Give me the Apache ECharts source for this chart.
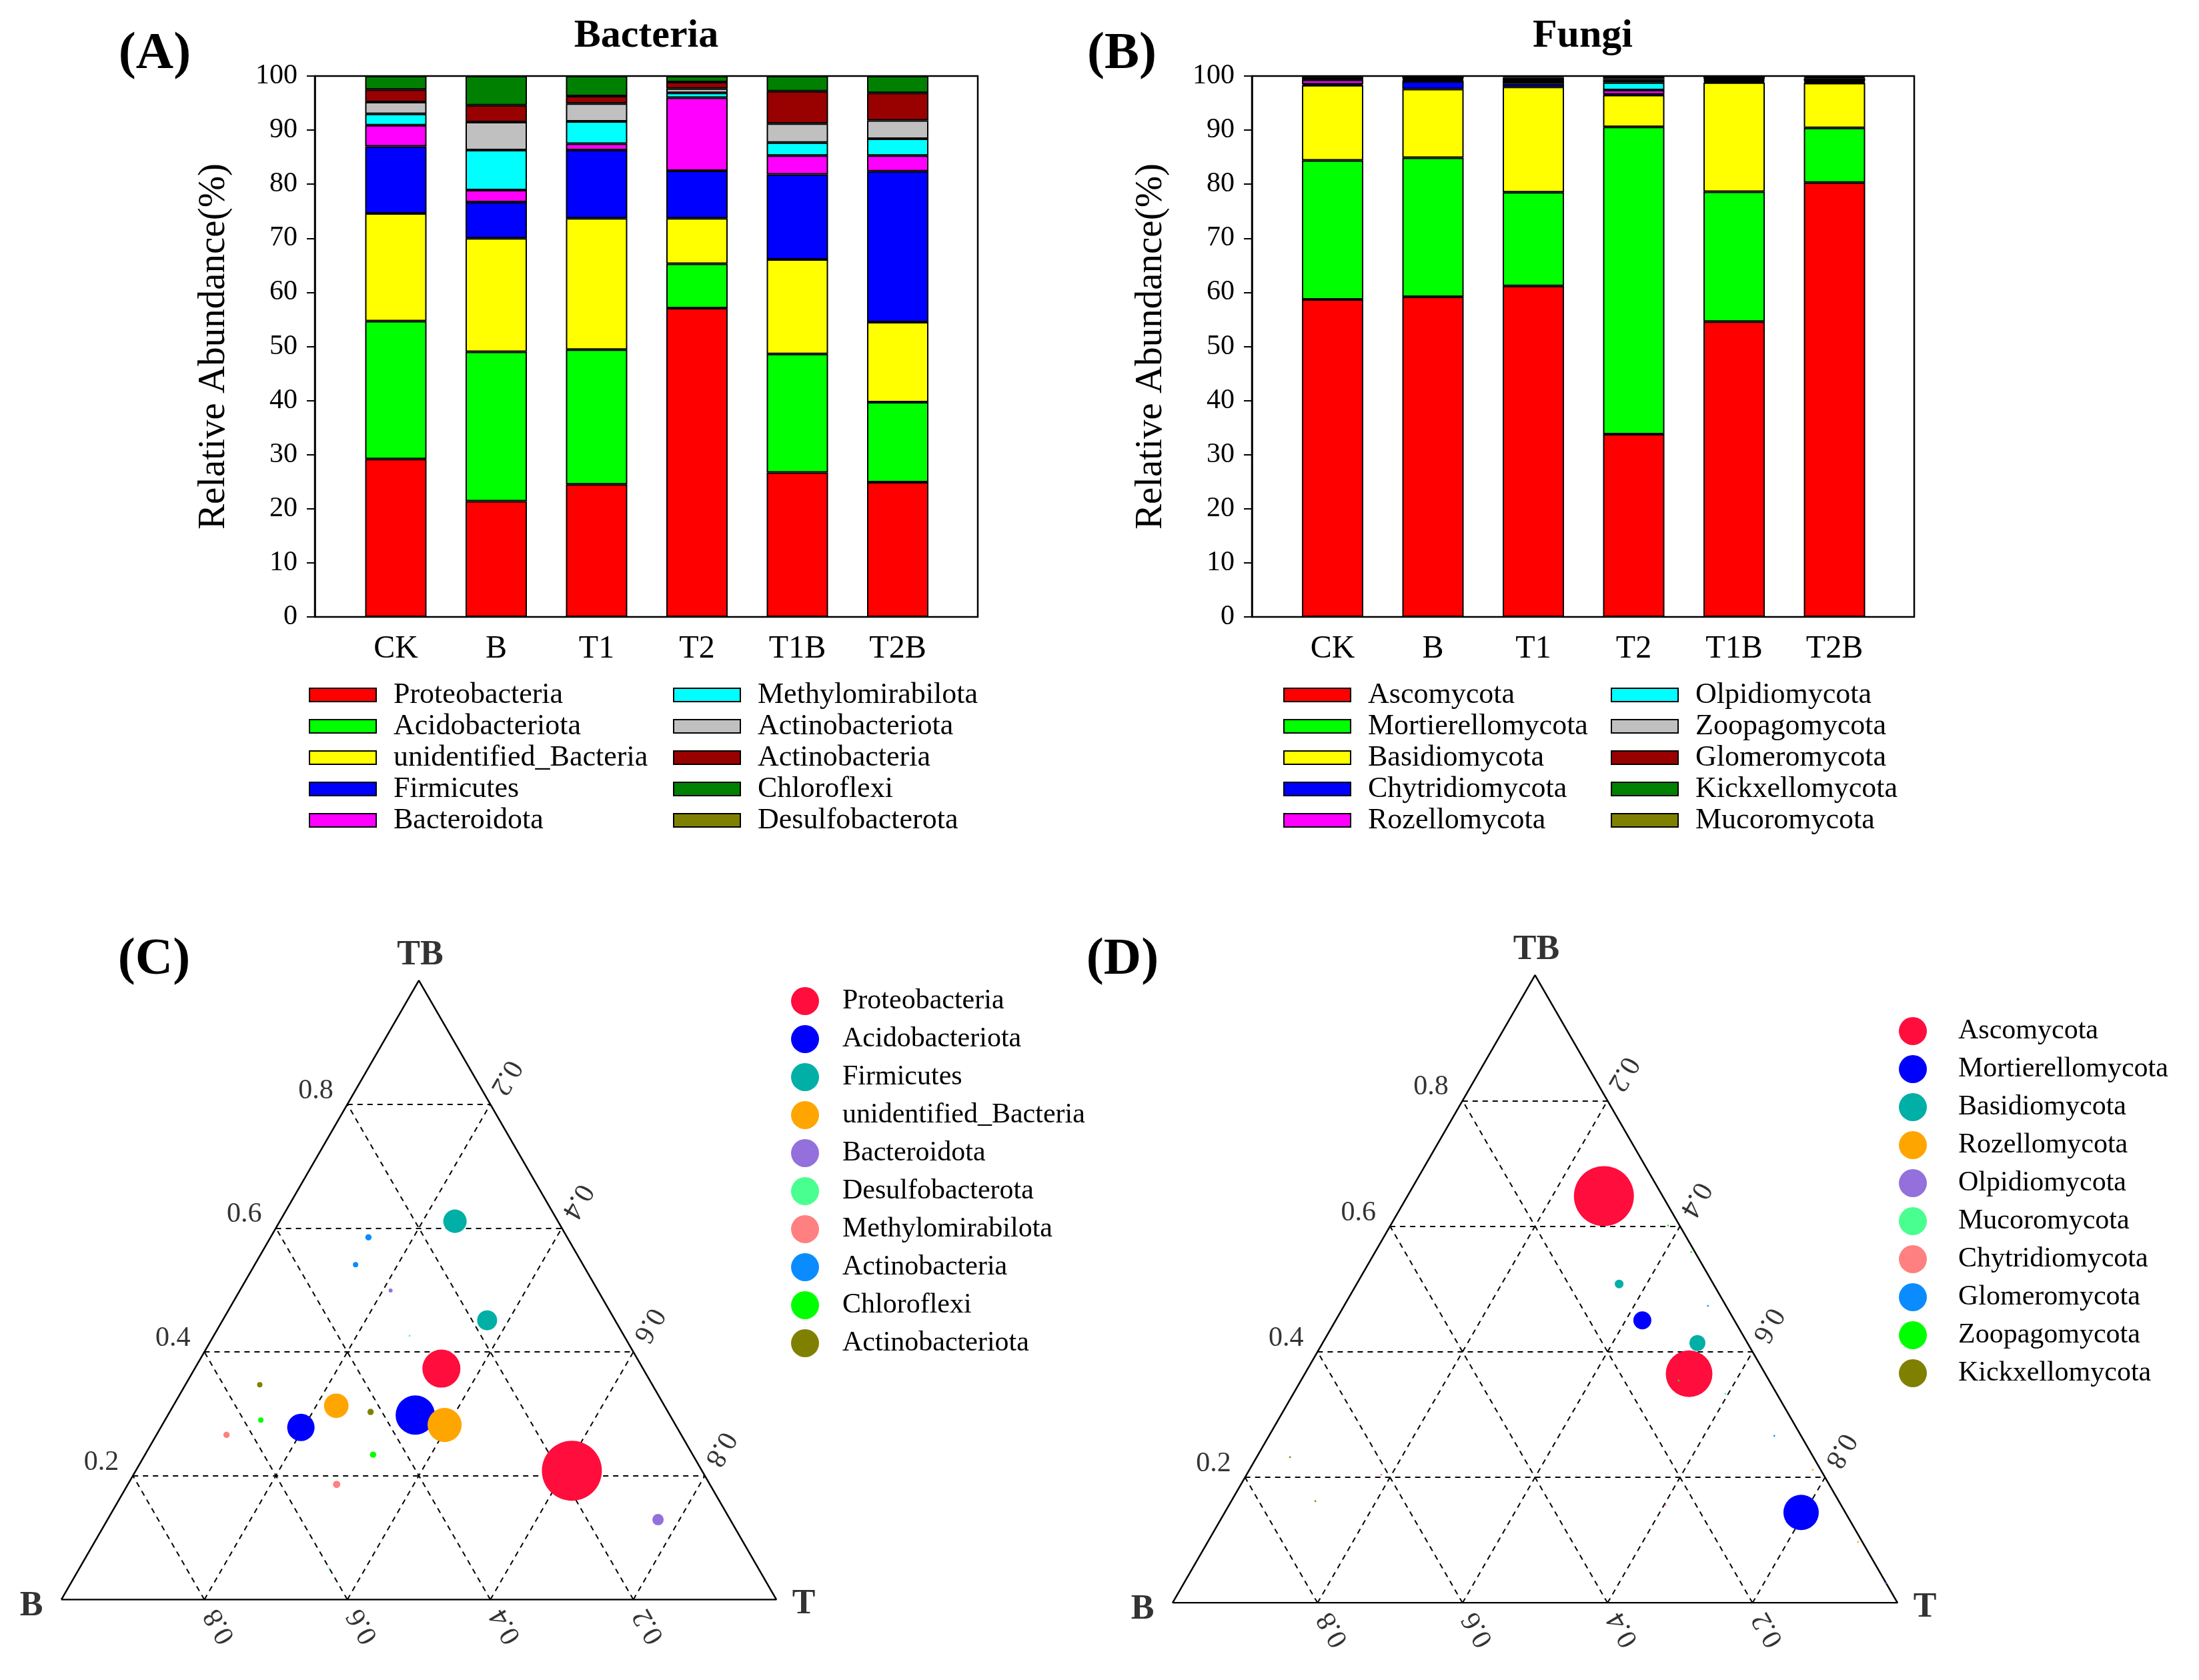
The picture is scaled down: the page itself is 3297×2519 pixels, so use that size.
<!DOCTYPE html>
<html><head><meta charset="utf-8">
<script src="https://cdn.jsdelivr.net/npm/echarts@6/dist/echarts.min.js"></script>
<style>html,body{margin:0;padding:0;background:#fff}#c{width:3297px;height:2519px}</style>
</head><body><div id="c"></div>
<script>
const FONT = '"Liberation Serif","Times New Roman",serif';
// ---------- bar chart data ----------
const samples = ['CK', 'B', 'T1', 'T2', 'T1B', 'T2B'];
const bacteriaNames = ['Proteobacteria','Acidobacteriota','unidentified_Bacteria','Firmicutes','Bacteroidota','Methylomirabilota','Actinobacteriota','Actinobacteria','Chloroflexi','Desulfobacterota'];
const proteobacteria     = [29.2, 21.4, 24.5, 57.1, 26.7, 24.9];
const acidobacteriota    = [25.5, 27.6, 24.9, 8.2, 21.9, 14.8];
const unidentifiedBact   = [19.9, 21.0, 24.3, 8.4, 17.5, 14.8];
const firmicutes         = [12.4, 6.7, 12.6, 8.8, 15.7, 27.9];
const bacteroidota       = [3.9, 2.2, 1.2, 13.5, 3.5, 2.9];
const methylomirabilota  = [2.1, 7.4, 4.1, 0.9, 2.4, 3.1];
const actinobacteriota   = [2.2, 5.2, 3.3, 0.8, 3.5, 3.4];
const actinobacteria     = [2.3, 3.1, 1.4, 1.2, 6.0, 5.1];
const chloroflexi        = [2.5, 5.4, 3.7, 1.1, 2.8, 3.1];
const desulfobacterota   = [0, 0, 0, 0, 0, 0];
const bacteriaValues = [proteobacteria, acidobacteriota, unidentifiedBact, firmicutes, bacteroidota, methylomirabilota, actinobacteriota, actinobacteria, chloroflexi, desulfobacterota];

const fungiNames = ['Ascomycota','Mortierellomycota','Basidiomycota','Chytridiomycota','Rozellomycota','Olpidiomycota','Zoopagomycota','Glomeromycota','Kickxellomycota','Mucoromycota'];
const ascomycota        = [58.7, 59.2, 61.2, 33.8, 54.6, 80.3];
const mortierellomycota = [25.7, 25.7, 17.3, 56.8, 24.0, 10.1];
const basidiomycota     = [13.9, 12.7, 19.5, 5.9, 20.2, 8.3];
const chytridiomycota   = [0.2, 1.4, 0.6, 0.1, 0.2, 0.1];
const rozellomycota     = [0.8, 0.1, 0.5, 0.8, 0.2, 0.2];
const olpidiomycota     = [0.1, 0.1, 0.1, 1.4, 0.1, 0.1];
const zoopagomycota     = [0.1, 0.1, 0.1, 0.5, 0.2, 0.5];
const glomeromycota     = [0.3, 0.2, 0.4, 0.3, 0.3, 0.2];
const kickxellomycota   = [0.2, 0.4, 0.2, 0.3, 0.1, 0.1];
const mucoromycota      = [0.0, 0.1, 0.1, 0.1, 0.1, 0.1];
const fungiValues = [ascomycota, mortierellomycota, basidiomycota, chytridiomycota, rozellomycota, olpidiomycota, zoopagomycota, glomeromycota, kickxellomycota, mucoromycota];

const barColors = ['#FF0000','#00FF00','#FFFF00','#0000FF','#FF00FF','#00FFFF','#C0C0C0','#990000','#008000','#808000'];
const yTickInterval = 10;

// ---------- ternary data: [B, T, TB, abundance] ----------
const ternTicks = [0.2, 0.4, 0.6, 0.8];
const ternCNames = ['Proteobacteria','Acidobacteriota','Firmicutes','unidentified_Bacteria','Bacteroidota','Desulfobacterota','Methylomirabilota','Actinobacteria','Chloroflexi','Actinobacteriota'];
const proteoC   = [[0.282,0.345,0.373,12.7],[0.182,0.610,0.208,31.6]];
const acidoC    = [[0.356,0.346,0.298,13.6],[0.526,0.196,0.278,6.6]];
const firmC     = [[0.144,0.245,0.611,4.8],[0.179,0.370,0.451,3.5]];
const unidC     = [[0.459,0.228,0.313,5.3],[0.323,0.395,0.282,10.2]];
const bacteroC  = [[0.101,0.770,0.129,1.13],[0.290,0.211,0.499,0.14]];
const desulfoC  = [[0.300,0.274,0.426,0.03],[0.600,0.350,0.050,0.03]];
const methyloC  = [[0.636,0.098,0.266,0.35],[0.522,0.292,0.186,0.47]];
const actinoC   = [[0.278,0.137,0.585,0.35],[0.318,0.141,0.541,0.25]];
const chloroC   = [[0.576,0.134,0.290,0.25],[0.447,0.319,0.234,0.35]];
const actinotaC = [[0.549,0.104,0.347,0.25],[0.416,0.281,0.303,0.35]];
const ternCData = [proteoC, acidoC, firmC, unidC, bacteroC, desulfoC, methyloC, actinoC, chloroC, actinotaC];

const ternDNames = ['Ascomycota','Mortierellomycota','Basidiomycota','Rozellomycota','Olpidiomycota','Mucoromycota','Chytridiomycota','Glomeromycota','Zoopagomycota','Kickxellomycota'];
const ascoD    = [[0.081,0.271,0.648,31.6],[0.105,0.530,0.365,19.1]];
const mortD    = [[0.127,0.423,0.450,2.85],[0.061,0.795,0.144,11.0]];
const basidD   = [[0.130,0.362,0.508,0.66],[0.069,0.517,0.414,2.25]];
const rozelloD = [[0.011,0.777,0.212,0.03],[0.006,0.897,0.097,0.03]];
const olpidD   = [[0.001,0.968,0.031,0.03]];
const mucoroD  = [[0.071,0.596,0.333,0.03]];
const chytridD = [[0.610,0.186,0.204,0.03],[0.242,0.602,0.156,0.03]];
const glomeroD = [[0.025,0.502,0.473,0.03],[0.037,0.697,0.266,0.03]];
const zoopagoD = [[0.005,0.436,0.559,0.03],[0.125,0.521,0.354,0.03],[0.016,0.383,0.601,0.03]];
const kickxD   = [[0.722,0.046,0.232,0.03],[0.722,0.116,0.162,0.03]];
const ternDData = [ascoD, mortD, basidD, rozelloD, olpidD, mucoroD, chytridD, glomeroD, zoopagoD, kickxD];

const ternColors = ['#FF0D3D','#0000FF','#00AFA5','#FFA500','#9370DB','#48FF8F','#FF8080','#0A8CFF','#00FF00','#808000'];

// ---------- helpers ----------
const SQ = Math.sqrt(3) / 2;
function tern(b, t, tb) { const s = b + t + tb; return [(t + tb / 2) / s, (tb / s) * SQ]; }
function sizeOf(a) { return 16 * Math.sqrt(a); }

const chart = echarts.init(document.getElementById('c'));

const grids = [
  { left: 472, top: 114, width: 994, height: 811, show: true, borderColor: '#000', borderWidth: 2.5, backgroundColor: 'rgba(0,0,0,0)' },
  { left: 518.25, top: 114, width: 903, height: 811 },
  { left: 1877, top: 114, width: 993, height: 811, show: true, borderColor: '#000', borderWidth: 2.5, backgroundColor: 'rgba(0,0,0,0)' },
  { left: 1922.75, top: 114, width: 903, height: 811 },
  { left: 92, top: 1470, width: 1072, height: 1072 * SQ },
  { left: 1758, top: 1462, width: 1087, height: 1087 * SQ }
];
const ternW = [1072, 1087];

function frameY(gi) {
  return {
    gridIndex: gi, type: 'value', min: 0, max: 100, interval: yTickInterval,
    axisLine: { show: true, lineStyle: { color: '#000', width: 2.5 } },
    axisTick: { show: true, length: 12, lineStyle: { color: '#000', width: 2 } },
    axisLabel: { fontSize: 42, margin: 26, color: '#000', fontFamily: FONT },
    splitLine: { show: false },
    name: 'Relative Abundance(%)', nameLocation: 'middle', nameGap: 122,
    nameTextStyle: { fontSize: 57, color: '#000', fontFamily: FONT }
  };
}
function catX(gi) {
  return {
    gridIndex: gi, type: 'category', data: samples,
    axisLine: { show: false }, axisTick: { show: false },
    axisLabel: { fontSize: 48, margin: 24, color: '#000', fontFamily: FONT }
  };
}
const xAxes = [
  { gridIndex: 0, type: 'value', min: 0, max: 1, show: false },
  catX(1),
  { gridIndex: 2, type: 'value', min: 0, max: 1, show: false },
  catX(3),
  { gridIndex: 4, type: 'value', min: 0, max: 1, show: false },
  { gridIndex: 5, type: 'value', min: 0, max: 1, show: false }
];
const yAxes = [
  frameY(0),
  { gridIndex: 1, type: 'value', min: 0, max: 100, show: false },
  frameY(2),
  { gridIndex: 3, type: 'value', min: 0, max: 100, show: false },
  { gridIndex: 4, type: 'value', min: 0, max: SQ, show: false },
  { gridIndex: 5, type: 'value', min: 0, max: SQ, show: false }
];

const series = [];
bacteriaNames.forEach((n, i) => series.push({
  name: n, type: 'bar', stack: 'bac', xAxisIndex: 1, yAxisIndex: 1, barWidth: 92,
  data: bacteriaValues[i],
  itemStyle: { color: barColors[i], borderColor: '#000', borderWidth: 2 }
}));
fungiNames.forEach((n, i) => series.push({
  name: n, type: 'bar', stack: 'fun', xAxisIndex: 3, yAxisIndex: 3, barWidth: 92,
  data: fungiValues[i],
  itemStyle: { color: barColors[i], borderColor: '#000', borderWidth: 2 }
}));

function ternaryFrame(ai, prefix, names, data) {
  const W = ternW[ai - 4];
  const d = 20 / W;
  series.push({
    type: 'line', xAxisIndex: ai, yAxisIndex: ai, silent: true, symbol: 'none',
    data: [[0, 0], [1, 0], [0.5, SQ], [0, 0]],
    lineStyle: { color: '#000', width: 2.5 }, z: 1
  });
  const segs = [];
  ternTicks.forEach(k => {
    segs.push({ coords: [[k / 2, k * SQ], [1 - k / 2, k * SQ]] });
    segs.push({ coords: [[k, 0], [(1 + k) / 2, (1 - k) * SQ]] });
    segs.push({ coords: [[1 - k, 0], [(1 - k) / 2, (1 - k) * SQ]] });
  });
  series.push({
    type: 'lines', coordinateSystem: 'cartesian2d', xAxisIndex: ai, yAxisIndex: ai, silent: true,
    data: segs, lineStyle: { color: '#000', width: 2, type: [8, 7], opacity: 1, curveness: 0 }, z: 1
  });
  const lbl = { show: true, position: 'inside', color: '#000', fontSize: 42, fontFamily: FONT, verticalAlign: 'middle' };
  const hidden = { color: 'rgba(0,0,0,0)' };
  // left (TB)
  series.push({
    type: 'scatter', xAxisIndex: ai, yAxisIndex: ai, silent: true, clip: false, symbolSize: 1, itemStyle: hidden,
    data: ternTicks.map(k => ({ value: [k / 2, k * SQ], label: Object.assign({}, lbl, { formatter: k.toFixed(1), align: 'right', offset: [-21, -20] }) }))
  });
  // bottom (B)
  series.push({
    type: 'scatter', xAxisIndex: ai, yAxisIndex: ai, silent: true, clip: false, symbolSize: 1, itemStyle: hidden,
    data: ternTicks.map(k => ({ value: [1 - k + 0.5 * d, -SQ * d], label: Object.assign({}, lbl, { formatter: k.toFixed(1), align: 'right', rotate: 120 }) }))
  });
  // right (T)
  series.push({
    type: 'scatter', xAxisIndex: ai, yAxisIndex: ai, silent: true, clip: false, symbolSize: 1, itemStyle: hidden,
    data: ternTicks.map(k => ({ value: [(1 + k) / 2 + 0.5 * d, (1 - k) * SQ + SQ * d], label: Object.assign({}, lbl, { formatter: k.toFixed(1), align: 'right', rotate: -120 }) }))
  });
  // vertex names
  const vl = Object.assign({}, lbl, { fontSize: 52, fontWeight: 'bold', align: 'center' });
  series.push({
    type: 'scatter', xAxisIndex: ai, yAxisIndex: ai, silent: true, clip: false, symbolSize: 1, itemStyle: hidden,
    data: [
      { value: [0.5, SQ], label: Object.assign({}, vl, { formatter: 'TB', offset: [2, -37] }) },
      { value: [0, 0], label: Object.assign({}, vl, { formatter: 'B', offset: [-45, 10] }) },
      { value: [1, 0], label: Object.assign({}, vl, { formatter: 'T', offset: [41, 7] }) }
    ]
  });
  names.forEach((n, i) => series.push({
    name: prefix + n, type: 'scatter', xAxisIndex: ai, yAxisIndex: ai, clip: false, z: 3,
    data: data[i].map(p => { const c = tern(p[0], p[1], p[2]); return [c[0], c[1], p[3]]; }),
    symbolSize: v => sizeOf(v[2]),
    itemStyle: { color: ternColors[i], opacity: 1 }
  }));
}
ternaryFrame(4, 'C|', ternCNames, ternCData);
ternaryFrame(5, 'D|', ternDNames, ternDData);

function barLegend(names, left) {
  return {
    data: names, left: left, top: 1020, orient: 'vertical', padding: 0, selectedMode: false,
    icon: 'rect', itemWidth: 100, itemHeight: 20, itemGap: 3,
    itemStyle: { borderColor: '#000', borderWidth: 2 },
    textStyle: { fontSize: 44, lineHeight: 40, color: '#000', fontFamily: FONT, padding: [0, 0, 0, 21] }
  };
}
function ternLegend(prefix, names, left, top, pad) {
  return {
    data: names.map(n => prefix + n), left: left, top: top, orient: 'vertical', padding: 0, selectedMode: false,
    icon: 'circle', itemWidth: 42, itemHeight: 42, itemGap: 15,
    formatter: s => s.split('|')[1],
    textStyle: { fontSize: 42, lineHeight: 42, color: '#000', fontFamily: FONT, padding: [0, 0, 0, pad] }
  };
}

const legends = [
  barLegend(bacteriaNames.slice(0, 5), 463),
  barLegend(bacteriaNames.slice(5), 1009),
  barLegend(fungiNames.slice(0, 5), 1924),
  barLegend(fungiNames.slice(5), 2415),
  ternLegend('C|', ternCNames, 1186, 1480, 30),
  ternLegend('D|', ternDNames, 2847, 1525, 42)
];

function gtext(t, x, y, size, bold) {
  return { type: 'text', x: x, y: y, silent: true,
    style: { text: t, fontSize: size, fontWeight: bold ? 'bold' : 'normal', fontFamily: FONT, fill: '#000', textAlign: 'center', textVerticalAlign: 'middle' } };
}

chart.setOption({
  animation: false,
  backgroundColor: '#fff',
  textStyle: { fontFamily: FONT, color: '#000' },
  grid: grids, xAxis: xAxes, yAxis: yAxes,
  legend: legends,
  series: series,
  graphic: [
    gtext('(A)', 232, 82, 78, true),
    gtext('(B)', 1682, 82, 78, true),
    gtext('(C)', 231, 1440, 78, true),
    gtext('(D)', 1683, 1440, 78, true),
    gtext('Bacteria', 969, 54, 60, true),
    gtext('Fungi', 2373, 54, 60, true)
  ]
});
</script>
</body></html>
